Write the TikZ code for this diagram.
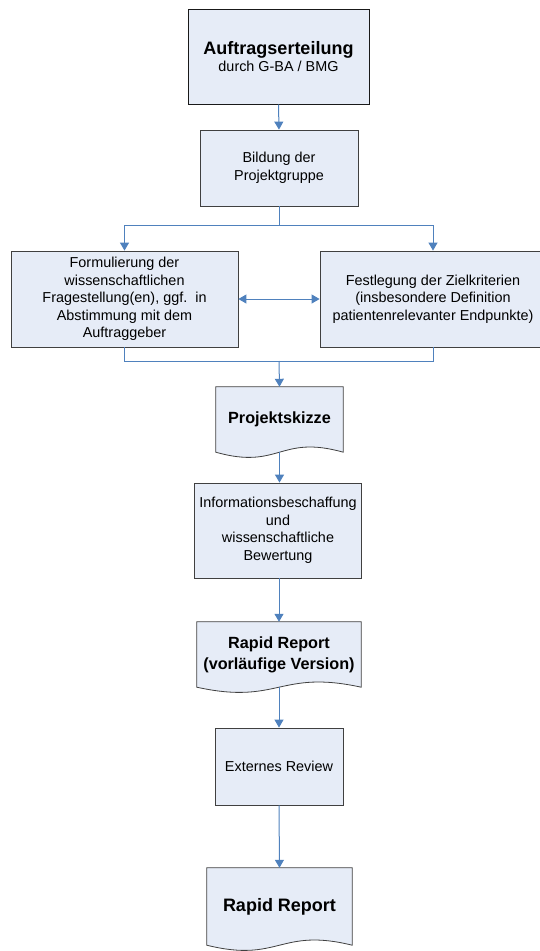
\documentclass[tikz,border=0pt]{standalone}
\usepackage{fontspec}
\setmainfont{Liberation Sans}
\usetikzlibrary{arrows.meta,calc,backgrounds,shadows}
\definecolor{boxfill}{HTML}{E6ECF7}
\definecolor{flowblue}{HTML}{4F81BD}
\definecolor{boxline}{HTML}{404040}
\newcommand{\docwave}[1]{%
  \begin{pgfonlayer}{background}
    \draw[docline] (#1.south west) -- (#1.north west) -- (#1.north east) -- (#1.south east)
      .. controls ($(#1.south)+(0,-18)$) and ($(#1.south)+(0,18)$) .. (#1.south west) -- cycle;
  \end{pgfonlayer}}
\begin{document}
\begin{tikzpicture}[x=1pt,y=-1pt,
    box/.style={draw=boxline,fill=boxfill,line width=0.8pt,align=center,inner sep=0pt,
      font=\fontsize{14.4}{17.5}\selectfont},
    docnode/.style={align=center,inner sep=0pt,font=\bfseries\fontsize{16.2}{21}\selectfont},
    docline/.style={draw=boxline,fill=boxfill,line width=0.8pt},
    flow/.style={draw=flowblue,line width=1pt,-{Triangle[length=8pt,width=9pt]}},
    link/.style={draw=flowblue,line width=1pt}]
  \useasboundingbox (0,0) rectangle (540,951);

  \node[box,draw=black!90,line width=1pt,minimum width=181pt,minimum height=95pt,
        drop shadow={shadow xshift=1.2pt,shadow yshift=-1.2pt,fill=black!20}]
    (auftrag) at (278.5,56.5) {{\bfseries\fontsize{18}{22}\selectfont Auftragserteilung}\\ durch G-BA / BMG};
  \node[box,minimum width=158pt,minimum height=76pt] (bildung) at (279,168) {Bildung der\\ Projektgruppe};
  \node[box,minimum width=227pt,minimum height=96pt] (frage) at (124.5,299)
    {Formulierung der\\ wissenschaftlichen\\ Fragestellung(en), ggf.\ \ in\\ Abstimmung mit dem\\ Auftraggeber};
  \node[box,minimum width=226pt,minimum height=96pt] (ziel) at (433,299)
    {Festlegung der Zielkriterien\\ (insbesondere Definition\\ patientenrelevanter Endpunkte)};
  \node[docnode,minimum width=127pt,minimum height=65pt] (skizze) at (279.5,419.5) {Projektskizze};
  \node[box,minimum width=167pt,minimum height=95pt] (info) at (278,530.5)
    {Informationsbeschaffung\\ und\\ wissenschaftliche\\ Bewertung};
  \node[docnode,minimum width=164pt,minimum height=65pt] (vorl) at (279,654.5)
    {Rapid Report\\ (vorläufige Version)};
  \node[box,minimum width=128pt,minimum height=77pt] (review) at (279,766.5) {Externes Review};
  \node[docnode,font=\bfseries\fontsize{18}{22}\selectfont,minimum width=145pt,minimum height=77pt]
    (report) at (279.5,906.5) {Rapid Report};

  \docwave{skizze}
  \docwave{vorl}
  \docwave{report}

  \coordinate (split) at (279,225);
  \coordinate (merge) at (279,361);

  \draw[flow] (auftrag.south) -- (bildung.north);
  \draw[link] (bildung.south) -- (split);
  \draw[flow] (split) -| (frage.north);
  \draw[flow] (split) -| (ziel.north);
  \draw[flow,{Triangle[length=8pt,width=9pt]}-{Triangle[length=8pt,width=9pt]}] (frage.east) -- (ziel.west);
  \draw[link] (frage.south) |- (merge);
  \draw[link] (ziel.south) |- (merge);
  \draw[flow] (merge) -- (skizze.north);
  \draw[flow] (skizze.south) -- (skizze.south |- info.north);
  \draw[flow] (info.south -| vorl.north) -- (vorl.north);
  \draw[flow] (vorl.south) -- (review.north);
  \draw[flow] (review.south) -- (report.north);
\end{tikzpicture}
\end{document}
